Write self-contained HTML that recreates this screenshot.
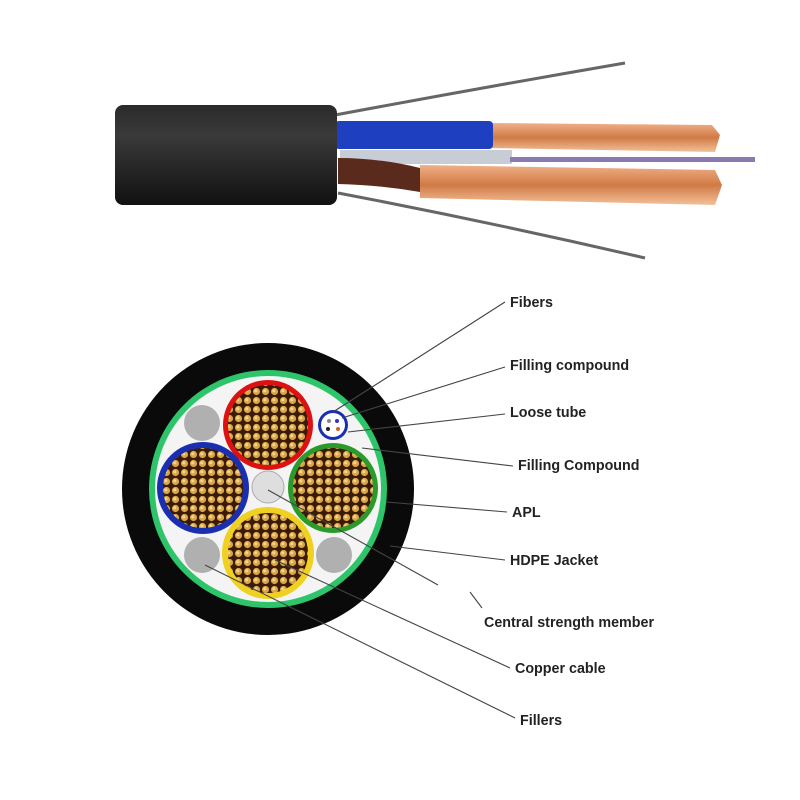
<!DOCTYPE html><html><head><style>body{margin:0;background:#fff}svg{display:block}text{font-family:"Liberation Sans",sans-serif;font-weight:bold;font-size:14.3px;fill:#222}</style></head><body>
<svg width="800" height="800" viewBox="0 0 800 800">
<defs>
<pattern id="cu" width="9" height="9" patternUnits="userSpaceOnUse"><rect width="9" height="9" fill="#3a1a08"/><circle cx="4.5" cy="4.5" r="3.6" fill="#d9a545"/><circle cx="3.8" cy="3.8" r="1.6" fill="#f3d68a"/></pattern>
<linearGradient id="blk" x1="0" y1="0" x2="0" y2="1"><stop offset="0" stop-color="#2a2a2a"/><stop offset=".3" stop-color="#3a3a3a"/><stop offset="1" stop-color="#111"/></linearGradient>
<linearGradient id="cop" x1="0" y1="0" x2="0" y2="1"><stop offset="0" stop-color="#f0b088"/><stop offset=".5" stop-color="#d07a45"/><stop offset="1" stop-color="#f3c098"/></linearGradient>
</defs>
<path d="M335 115 Q480 88 625 63" stroke="#666" stroke-width="3" fill="none"/>
<path d="M338 193 Q490 222 645 258" stroke="#666" stroke-width="3" fill="none"/>
<path d="M420 165 L715 170 L722 185 L715 205 L420 198 Z" fill="url(#cop)"/>
<path d="M490 123 L712 125 L720 135 L715 152 L490 148 Z" fill="url(#cop)"/>
<rect x="340" y="150" width="172" height="14" fill="#c8ccd4"/>
<rect x="510" y="157" width="245" height="5" fill="#8a7ab0"/>
<rect x="335" y="121" width="158" height="28" fill="#1d3fc0" rx="4"/>
<path d="M338 158 Q380 158 420 168 L420 192 Q380 185 338 184 Z" fill="#5a2a1c"/>
<rect x="115" y="105" width="222" height="100" rx="8" fill="url(#blk)"/>
<circle cx="268" cy="489" r="146" fill="#0a0a0a"/>
<circle cx="268" cy="489" r="119" fill="#2ec56a"/>
<circle cx="268" cy="489" r="113" fill="#f4f4f4"/>
<circle cx="202" cy="423" r="18" fill="#b0b0b0"/>
<circle cx="202" cy="555" r="18" fill="#b0b0b0"/>
<circle cx="334" cy="555" r="18" fill="#b0b0b0"/>
<circle cx="268" cy="487" r="16" fill="#dedede" stroke="#aaa"/>
<circle cx="268" cy="425" r="45" fill="#d11" /><circle cx="268" cy="425" r="40" fill="url(#cu)"/>
<circle cx="203" cy="488" r="46" fill="#1a2fb0"/><circle cx="203" cy="488" r="40" fill="url(#cu)"/>
<circle cx="333" cy="488" r="45" fill="#2a9a2a"/><circle cx="333" cy="488" r="40" fill="url(#cu)"/>
<circle cx="268" cy="553" r="46" fill="#f0d020"/><circle cx="268" cy="553" r="40" fill="url(#cu)"/>
<circle cx="333" cy="425" r="15" fill="#1a2fb0"/><circle cx="333" cy="425" r="12" fill="#fff"/>
<circle cx="329" cy="421" r="2" fill="#888"/><circle cx="337" cy="421" r="2" fill="#33c"/><circle cx="328" cy="429" r="2" fill="#222"/><circle cx="338" cy="429" r="2" fill="#c63"/>
<g stroke="#444" stroke-width="1.1">
<line x1="505" y1="302" x2="333" y2="412"/>
<line x1="505" y1="367" x2="342" y2="418"/>
<line x1="505" y1="414" x2="348" y2="432"/>
<line x1="513" y1="466" x2="362" y2="448"/>
<line x1="507" y1="512" x2="386" y2="502"/>
<line x1="505" y1="560" x2="390" y2="546"/>
<line x1="268" y1="490" x2="438" y2="585"/>
<line x1="470" y1="592" x2="482" y2="608"/>
<line x1="510" y1="668" x2="275" y2="560"/>
<line x1="515" y1="718" x2="205" y2="565"/>
</g>
<text x="510" y="307">Fibers</text>
<text x="510" y="370">Filling compound</text>
<text x="510" y="417">Loose tube</text>
<text x="518" y="470">Filling Compound</text>
<text x="512" y="517">APL</text>
<text x="510" y="565">HDPE Jacket</text>
<text x="484" y="627">Central strength member</text>
<text x="515" y="673">Copper cable</text>
<text x="520" y="725">Fillers</text>
</svg></body></html>
